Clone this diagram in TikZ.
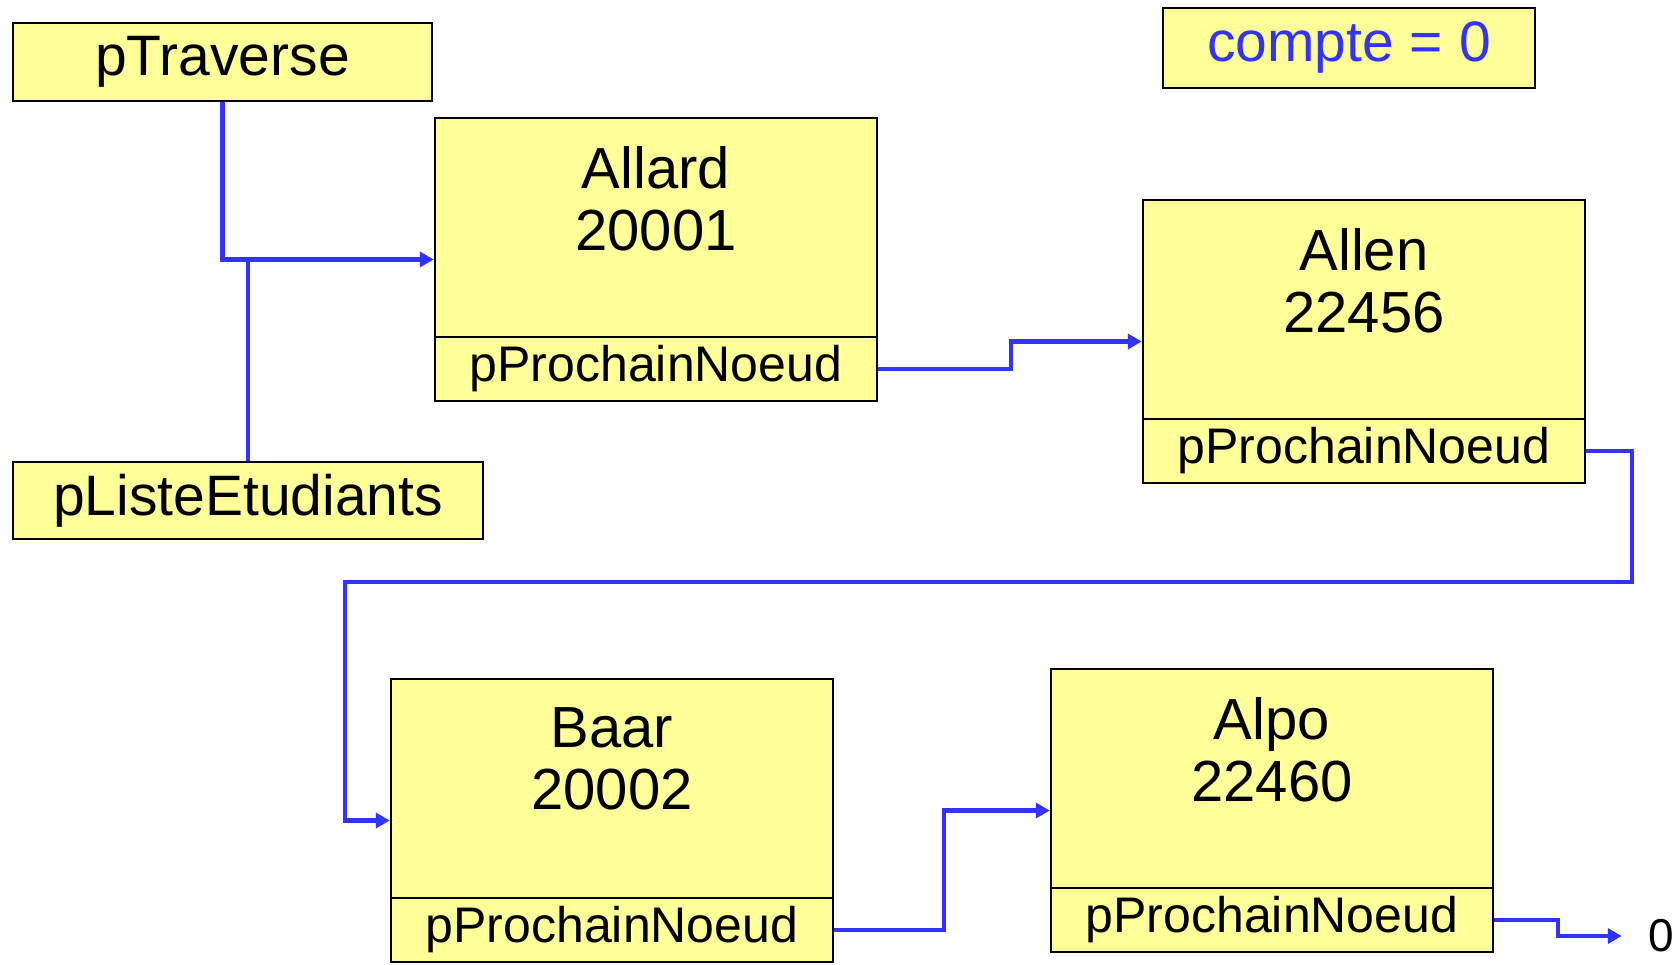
\documentclass[tikz,border=0pt]{standalone}
\usepackage{fontspec}
\setmainfont{Liberation Sans}
\usetikzlibrary{arrows.meta}
\definecolor{jaune}{RGB}{255,255,153}
\definecolor{bleu}{RGB}{51,51,255}

\begin{document}
\begin{tikzpicture}[x=0.5pt,y=-0.5pt,
    boite/.style={draw,fill=jaune,line width=1.2pt,inner sep=0pt},
    noeud/.style={boite,minimum width=221pt,minimum height=141.5pt},
    suivant/.style={boite,minimum width=221pt,minimum height=32pt,font=\fontsize{25}{30}\selectfont},
    donnee/.style={inner sep=0pt,align=center,font=\fontsize{29}{31}\selectfont},
    lien/.style={draw=bleu,line width=2.2pt,-{Triangle[length=7pt,width=7.5pt]}}]
    \useasboundingbox (0,0) rectangle (1679,964);
    \node[boite,minimum width=209.5pt,minimum height=39pt,font=\fontsize{28.5}{30}\selectfont] (ptraverse) at (222.5,62) {pTraverse};
    \node[boite,minimum width=235pt,minimum height=38.5pt,font=\fontsize{28.5}{30}\selectfont] (pliste) at (248,500.5) {pListeEtudiants};
    \node[boite,minimum width=186pt,minimum height=40pt,text=bleu,font=\fontsize{28.5}{30}\selectfont] (compte) at (1349,48) {compte = 0};
    \foreach \id/\nom/\matr/\x/\y in {allard/Allard/20001/656/259.5,allen/Allen/22456/1364/341.5,baar/Baar/20002/612/820.5,alpo/Alpo/22460/1272/810.5} {
      \node[noeud] (\id) at (\x,\y) {};
      \node[donnee] (\id-nom) at (\id.north) [below=14.5pt] {\nom\\\matr};
      \node[suivant] (\id-p) at (\id.south) [above] {pProchainNoeud};
    }
    \node[inner sep=0pt,font=\fontsize{23}{26}\selectfont] (nul) at (1661,936) {0};
    \coordinate (retour) at (345,582);
    \draw[lien] (ptraverse.south) |- (allard.west);
    \draw[bleu,line width=2.2pt] (pliste.north) -- (pliste.north |- allard.west);
    \draw[lien] (allard-p.east) -- ++(133,0) |- (allen.west);
    \draw[lien] (allen-p.east) -- ++(46,0) |- (retour) |- (baar.west);
    \draw[lien] (baar-p.east) -- ++(110,0) |- (alpo.west);
    \draw[lien,shorten >=13pt] (alpo-p.east) -- ++(64,0) |- (nul.west);
\end{tikzpicture}
\end{document}
